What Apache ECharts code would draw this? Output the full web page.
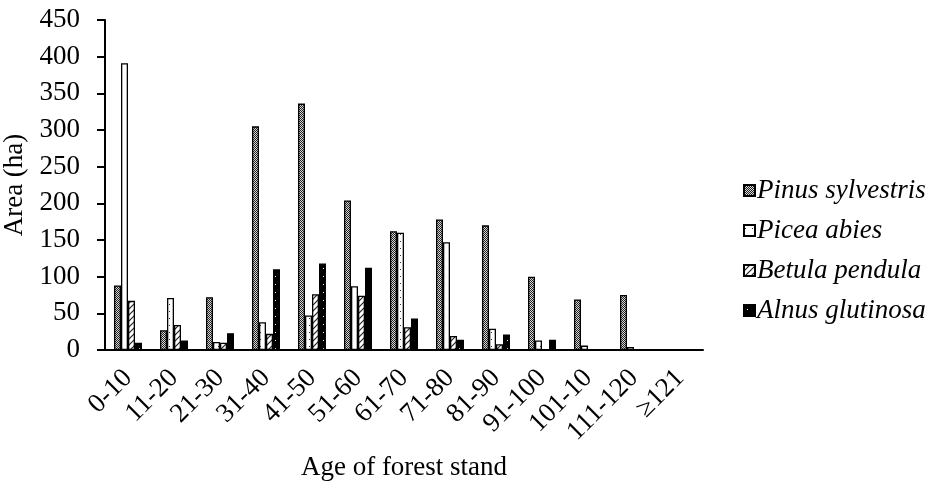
<!DOCTYPE html>
<html>
<head>
<meta charset="utf-8">
<script src="https://cdn.jsdelivr.net/npm/echarts@6/dist/echarts.min.js"></script>
<style>
  html, body { margin: 0; padding: 0; background: #fff; }
  #chart { width: 934px; height: 486px; }
</style>
</head>
<body>
<div id="chart"></div>
<script>
// age classes and area (ha) per species
const categories = ['0-10', '11-20', '21-30', '31-40', '41-50', '51-60', '61-70', '71-80', '81-90', '91-100', '101-10', '111-120', '≥121'];
const pinus = [88, 27, 72, 305, 336, 204, 162, 178, 170, 100, 69, 75, 0];
const picea = [391, 71, 11, 38, 47, 87, 160, 147, 29, 13, 6, 4, 0];
const betula = [67, 34, 10, 22, 76, 74, 31, 19, 8, 1, 1, 0, 0];
const alnus = [10, 13, 23, 110, 118, 112, 43, 14, 21, 14, 1, 0, 0];
const seriesNames = ['Pinus sylvestris', 'Picea abies', 'Betula pendula', 'Alnus glutinosa'];
const yTicks = [0, 50, 100, 150, 200, 250, 300, 350, 400, 450];

// little canvas fills to mimic the black & white hatching
function makePattern(size, draw) {
  const c = document.createElement('canvas');
  c.width = size; c.height = size;
  const ctx = c.getContext('2d');
  draw(ctx, size);
  return { image: c, repeat: 'repeat' };
}

const pinusFill = makePattern(2, (ctx) => {
  ctx.fillStyle = '#d8d8d8'; ctx.fillRect(0, 0, 2, 2);
  ctx.fillStyle = '#222'; ctx.fillRect(0, 0, 1, 1); ctx.fillRect(1, 1, 1, 1);
});
const piceaFill = makePattern(7, (ctx) => {
  ctx.fillStyle = '#fff'; ctx.fillRect(0, 0, 7, 7);
  ctx.fillStyle = '#333'; ctx.fillRect(1, 3, 1, 1);
});
const betulaFill = makePattern(6, (ctx) => {
  ctx.fillStyle = '#fff'; ctx.fillRect(0, 0, 6, 6);
  ctx.strokeStyle = '#222'; ctx.lineWidth = 1.2;
  ctx.beginPath();
  ctx.moveTo(0, 6); ctx.lineTo(6, 0);
  ctx.moveTo(-3, 3); ctx.lineTo(3, -3);
  ctx.moveTo(3, 9); ctx.lineTo(9, 3);
  ctx.stroke();
});
const alnusFill = makePattern(8, (ctx) => {
  ctx.fillStyle = '#000'; ctx.fillRect(0, 0, 8, 8);
  ctx.fillStyle = '#fff'; ctx.fillRect(3, 4, 1, 1);
});

const fills = [pinusFill, piceaFill, betulaFill, alnusFill];
const values = [pinus, picea, betula, alnus];
const font = "'Liberation Serif', 'Times New Roman', serif";

const chart = echarts.init(document.getElementById('chart'));

chart.setOption({
  animation: false,
  backgroundColor: '#fff',
  grid: { left: 105, right: 231, top: 20, bottom: 136, outerBoundsMode: 'none' },
  legend: {
    orient: 'vertical',
    left: 738,
    top: 172,
    itemWidth: 11,
    itemHeight: 11,
    itemGap: 13,
    icon: 'rect',
    data: seriesNames,
    textStyle: { fontFamily: font, fontSize: 27, fontStyle: 'italic', color: '#000', padding: [0, 0, 0, -3] }
  },
  xAxis: {
    type: 'category',
    data: categories,
    name: 'Age of forest stand',
    nameLocation: 'middle',
    nameGap: 104,
    nameTextStyle: { fontFamily: font, fontSize: 27, color: '#000' },
    axisLine: { lineStyle: { color: '#000', width: 2 } },
    axisTick: { show: false },
    axisLabel: { rotate: 45, margin: 24, fontFamily: font, fontSize: 27, color: '#000', interval: 0 }
  },
  yAxis: {
    type: 'value',
    min: 0,
    max: 450,
    interval: 50,
    name: 'Area (ha)',
    nameLocation: 'middle',
    nameGap: 68,
    nameTextStyle: { fontFamily: font, fontSize: 27, color: '#000' },
    axisLine: { show: true, lineStyle: { color: '#000', width: 2 } },
    axisTick: { show: true, length: 8, lineStyle: { color: '#000', width: 2 } },
    axisLabel: {
      margin: 25, fontFamily: font, fontSize: 27, color: '#000',
      formatter: (v) => (yTicks.includes(v) ? String(v) : '')
    },
    splitLine: { show: false }
  },
  series: seriesNames.map((name, i) => ({
    name: name,
    type: 'bar',
    data: values[i],
    barWidth: 7,
    barGap: '0%',
    itemStyle: { color: fills[i], borderColor: '#000', borderWidth: 1.3 }
  }))
});
</script>
</body>
</html>
